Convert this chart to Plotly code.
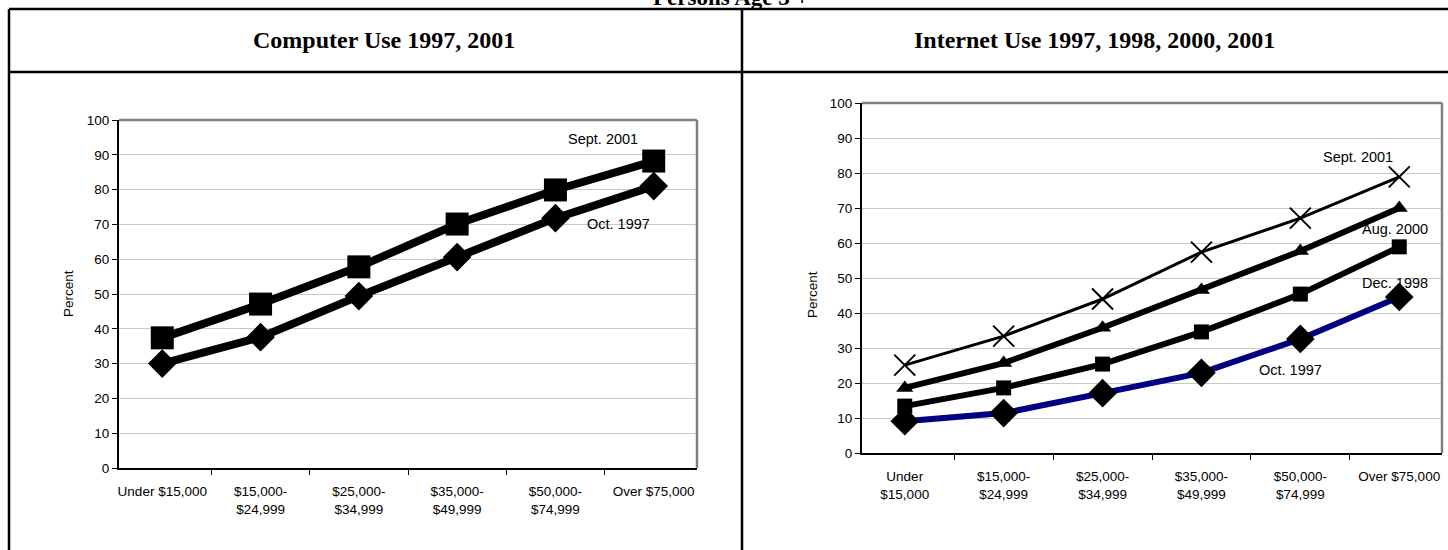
import plotly.graph_objects as go

W, H = 1448, 550

# ---------------- data ----------------
cats_left = ["Under $15,000", "$15,000-<br>$24,999", "$25,000-<br>$34,999",
             "$35,000-<br>$49,999", "$50,000-<br>$74,999", "Over $75,000"]
cats_right = ["Under<br>$15,000", "$15,000-<br>$24,999", "$25,000-<br>$34,999",
              "$35,000-<br>$49,999", "$50,000-<br>$74,999", "Over $75,000"]

comp_sept2001 = [37.4, 47.1, 57.8, 70.1, 79.9, 88.2]
comp_oct1997 = [30.0, 37.6, 49.4, 60.6, 71.8, 81.0]

net_sept2001 = [25.1, 33.4, 44.0, 57.4, 67.1, 78.9]
net_aug2000 = [18.6, 25.7, 35.8, 46.6, 57.7, 70.0]
net_dec1998 = [13.4, 18.6, 25.4, 34.6, 45.4, 58.9]
net_oct1997 = [9.1, 11.4, 17.1, 22.9, 32.6, 44.6]

y_ticks = [0, 10, 20, 30, 40, 50, 60, 70, 80, 90, 100]

# ---------------- helpers ----------------
def px_x(x):
    return x / W

def px_y(y):
    return 1 - y / H

fig = go.Figure()

# Left chart traces
fig.add_trace(go.Scatter(x=cats_left, y=comp_sept2001, mode="lines+markers",
                         line=dict(color="black", width=8),
                         marker=dict(symbol="square", size=23, color="black"),
                         xaxis="x", yaxis="y", showlegend=False, cliponaxis=False))
fig.add_trace(go.Scatter(x=cats_left, y=comp_oct1997, mode="lines+markers",
                         line=dict(color="black", width=8),
                         marker=dict(symbol="diamond", size=22, color="black"),
                         xaxis="x", yaxis="y", showlegend=False, cliponaxis=False))

# Right chart traces
fig.add_trace(go.Scatter(x=cats_right, y=net_oct1997, mode="lines+markers",
                         line=dict(color="#000080", width=6),
                         marker=dict(symbol="diamond", size=22, color="black"),
                         xaxis="x2", yaxis="y2", showlegend=False, cliponaxis=False))
fig.add_trace(go.Scatter(x=cats_right, y=net_dec1998, mode="lines+markers",
                         line=dict(color="black", width=6),
                         marker=dict(symbol="square", size=15, color="black"),
                         xaxis="x2", yaxis="y2", showlegend=False, cliponaxis=False))
fig.add_trace(go.Scatter(x=cats_right, y=net_aug2000, mode="lines+markers",
                         line=dict(color="black", width=6),
                         marker=dict(symbol="triangle-up", size=15, color="black"),
                         xaxis="x2", yaxis="y2", showlegend=False, cliponaxis=False))
fig.add_trace(go.Scatter(x=cats_right, y=net_sept2001, mode="lines+markers",
                         line=dict(color="black", width=3),
                         marker=dict(symbol="x-thin", size=21, color="black",
                                     line=dict(color="black", width=2)),
                         xaxis="x2", yaxis="y2", showlegend=False, cliponaxis=False))

tickfont = dict(family="Liberation Sans, Arial", size=13.5, color="black")

xcommon = dict(type="category", showgrid=False, showline=True, linecolor="black",
               linewidth=2, ticks="outside", ticklen=5, tickcolor="black",
               tickson="boundaries", tickfont=tickfont, ticklabelstandoff=10,
               tickangle=0, zeroline=False, fixedrange=True, automargin=False)
ycommon = dict(range=[0, 100], tickvals=y_ticks, showgrid=True, gridcolor="#c8c8c8",
               gridwidth=1, showline=True, linecolor="black", linewidth=2,
               ticks="outside", ticklen=5, tickcolor="black", tickfont=tickfont,
               zeroline=False, fixedrange=True, automargin=False)

L = (119, 697, 120, 468)   # left, right, top, bottom px
R = (862, 1442, 103, 453)

fig.update_layout(
    width=W, height=H, margin=dict(l=0, r=0, t=0, b=0, pad=0, autoexpand=False),
    paper_bgcolor="white", plot_bgcolor="white",
    xaxis=dict(domain=[px_x(L[0]), px_x(L[1])], anchor="y", **xcommon),
    yaxis=dict(domain=[px_y(L[3]), px_y(L[2])], anchor="x", **ycommon),
    xaxis2=dict(domain=[px_x(R[0]), px_x(R[1])], anchor="y2", **xcommon),
    yaxis2=dict(domain=[px_y(R[3]), px_y(R[2])], anchor="x2", **ycommon),
)

shapes = []
# plot area gray top/right borders
for xr, yr in (("x", "y"), ("x2", "y2")):
    shapes.append(dict(type="line", xref=f"{xr} domain", yref=f"{yr} domain",
                       x0=0, x1=1, y0=1, y1=1, line=dict(color="#808080", width=2.5)))
    shapes.append(dict(type="line", xref=f"{xr} domain", yref=f"{yr} domain",
                       x0=1, x1=1, y0=0, y1=1, line=dict(color="#808080", width=2.5)))

# table borders
blk = dict(color="black", width=2.5)
shapes.append(dict(type="line", xref="paper", yref="paper",
                   x0=px_x(9), x1=1.0, y0=px_y(9), y1=px_y(9), line=blk))
shapes.append(dict(type="line", xref="paper", yref="paper",
                   x0=px_x(9), x1=1.0, y0=px_y(72), y1=px_y(72), line=blk))
shapes.append(dict(type="line", xref="paper", yref="paper",
                   x0=px_x(9), x1=px_x(9), y0=0, y1=px_y(9), line=blk))
shapes.append(dict(type="line", xref="paper", yref="paper",
                   x0=px_x(742), x1=px_x(742), y0=0, y1=px_y(9), line=blk))
fig.update_layout(shapes=shapes)

serif = "Liberation Serif, Times New Roman"
sans = "Liberation Sans, Arial"
ann = []
ann.append(dict(text="<b>Persons Age 3 +</b>", xref="paper", yref="paper",
                x=px_x(731), y=px_y(12), xanchor="center", yanchor="bottom",
                showarrow=False, font=dict(family=serif, size=23, color="black")))
ann.append(dict(text="<b>Computer Use 1997, 2001</b>", xref="paper", yref="paper",
                x=px_x(384), y=px_y(40), xanchor="center", yanchor="middle",
                showarrow=False, font=dict(family=serif, size=24, color="black")))
ann.append(dict(text="<b>Internet Use 1997, 1998, 2000, 2001</b>", xref="paper", yref="paper",
                x=px_x(1094), y=px_y(40), xanchor="center", yanchor="middle",
                showarrow=False, font=dict(family=serif, size=24, color="black")))
for xp in (68, 812):
    ann.append(dict(text="Percent", xref="paper", yref="paper", x=px_x(xp), y=px_y(294),
                    xanchor="center", yanchor="middle", textangle=-90, showarrow=False,
                    font=dict(family=sans, size=13.5, color="black")))

labels = [("Sept. 2001", 603, 139), ("Oct. 1997", 618, 224),
          ("Sept. 2001", 1358, 157), ("Aug. 2000", 1395, 229),
          ("Dec. 1998", 1395, 283), ("Oct. 1997", 1290, 370)]
for t, xp, yp in labels:
    ann.append(dict(text=t, xref="paper", yref="paper", x=px_x(xp), y=px_y(yp),
                    xanchor="center", yanchor="middle", showarrow=False,
                    font=dict(family=sans, size=14.5, color="black")))
fig.update_layout(annotations=ann)

fig.write_html("out.html", config={"displayModeBar": False},
               post_script="document.body.style.margin='0';document.body.style.overflow='hidden';")
